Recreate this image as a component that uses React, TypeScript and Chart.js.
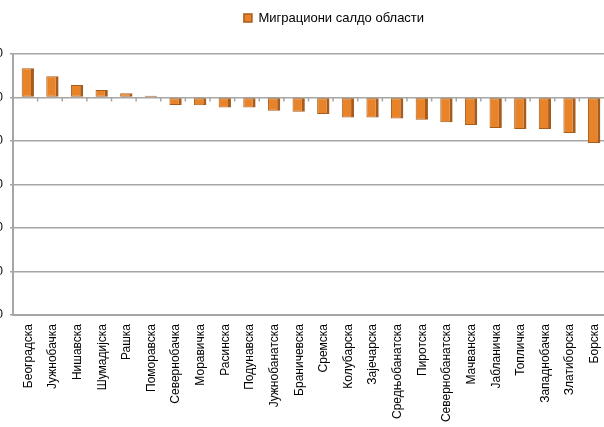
import React, { useEffect, useRef } from "react";
import { Chart, registerables } from "chart.js";

Chart.register(...registerables);

const categories = [
  "Београдска", "Јужнобачка", "Нишавска", "Шумадијска", "Рашка", "Поморавска",
  "Севернобачка", "Моравичка", "Расинска", "Подунавска", "Јужнобанатска", "Браничевска",
  "Сремска", "Колубарска", "Зајечарска", "Средњобанатска", "Пиротска", "Севернобанатска",
  "Мачванска", "Јабланичка", "Топличка", "Западнобачка", "Златиборска", "Борска",
];

const saldo = [
  1340, 980, 570, 340, 200, 80,
  -350, -360, -460, -460, -610, -660,
  -760, -920, -920, -960, -1020, -1140,
  -1260, -1400, -1450, -1450, -1630, -2090,
];

const seriesLabel = "Миграциони салдо области";
const yMin = -10000;
const yMax = 2000;
const yStep = 2000;

const GRID = "#A6A6A6";
const FONT = "'Liberation Sans', Arial, sans-serif";

const legendShift = {
  id: "legendShift",
  afterLayout(chart: any) {
    const lg = chart.legend;
    if (!lg) return;
    const pad = lg.options.labels.padding;
    const fs = lg.options.labels.font.size;
    const dx = 334 - (lg.left + lg.right) / 2;
    const dy = 18 - (lg.top + pad + fs / 2);
    lg.left += dx; lg.right += dx;
    lg.top += dy; lg.bottom += dy;
  },
};

// Excel-style 3D bars sit a little to the right of their category centre
const barNudge = {
  id: "barNudge",
  beforeDatasetsDraw(chart: any) {
    chart.ctx.save();
    chart.ctx.translate(2.5, 0);
  },
  afterDatasetsDraw(chart: any) {
    chart.ctx.restore();
  },
};

const zeroTicks = {
  id: "zeroTicks",
  afterDatasetsDraw(chart: any) {
    const x = chart.scales.x;
    const y = chart.scales.y;
    const y0 = y.getPixelForValue(0);
    const ctx = chart.ctx;
    ctx.save();
    ctx.strokeStyle = GRID;
    ctx.lineWidth = 1.5;
    ctx.beginPath();
    for (let i = 0; i < categories.length - 1; i++) {
      const px = (x.getPixelForValue(i) + x.getPixelForValue(i + 1)) / 2;
      ctx.moveTo(px, y0);
      ctx.lineTo(px, y0 + 4);
    }
    ctx.stroke();
    ctx.restore();
  },
};

export default function App() {
  const ref = useRef<HTMLCanvasElement | null>(null);
  useEffect(() => {
    document.body.style.margin = "0";
    const chart = new Chart(ref.current as HTMLCanvasElement, {
      type: "bar",
      data: {
        labels: categories,
        datasets: [
          {
            label: seriesLabel,
            data: saldo,
            backgroundColor: "#E8832A",
            borderColor: "#A65C1C",
            borderWidth: { top: 1, left: 1, bottom: 1, right: 3 } as any,
            borderSkipped: false,
            categoryPercentage: 1,
            barPercentage: 0.5,
          },
        ],
      },
      options: {
        animation: false,
        responsive: false,
        layout: { padding: 0 },
        plugins: {
          legend: {
            position: "top",
            labels: {
              boxWidth: 8,
              boxHeight: 8,
              padding: 31,
              color: "#000",
              font: { family: FONT, size: 13 },
            },
          },
          tooltip: { enabled: false },
        },
        scales: {
          x: {
            offset: true,
            grid: { display: false, drawTicks: false },
            border: { display: true, color: GRID, width: 2 },
            ticks: {
              autoSkip: false,
              maxRotation: 90,
              minRotation: 90,
              padding: 9,
              labelOffset: 3,
              color: "#000",
              font: { family: FONT, size: 12 },
            },
            afterFit(scale: any) {
              scale.height = 112;
              scale.paddingLeft = 0;
              scale.paddingRight = 0;
            },
          },
          y: {
            min: yMin,
            max: yMax,
            ticks: {
              stepSize: yStep,
              padding: 7,
              color: "#000",
              font: { family: FONT, size: 12 },
            },
            grid: { color: GRID, lineWidth: 1.5, tickLength: 3 },
            border: { display: true, color: GRID, width: 2 },
            afterFit(scale: any) {
              scale.width = 13;
            },
          },
        },
      },
      plugins: [legendShift, barNudge, zeroTicks],
    });
    return () => chart.destroy();
  }, []);
  return (
    <div style={{ width: 604, height: 427, overflow: "hidden", background: "#fff" }}>
      <canvas ref={ref} width={604} height={427} style={{ display: "block" }} />
    </div>
  );
}
